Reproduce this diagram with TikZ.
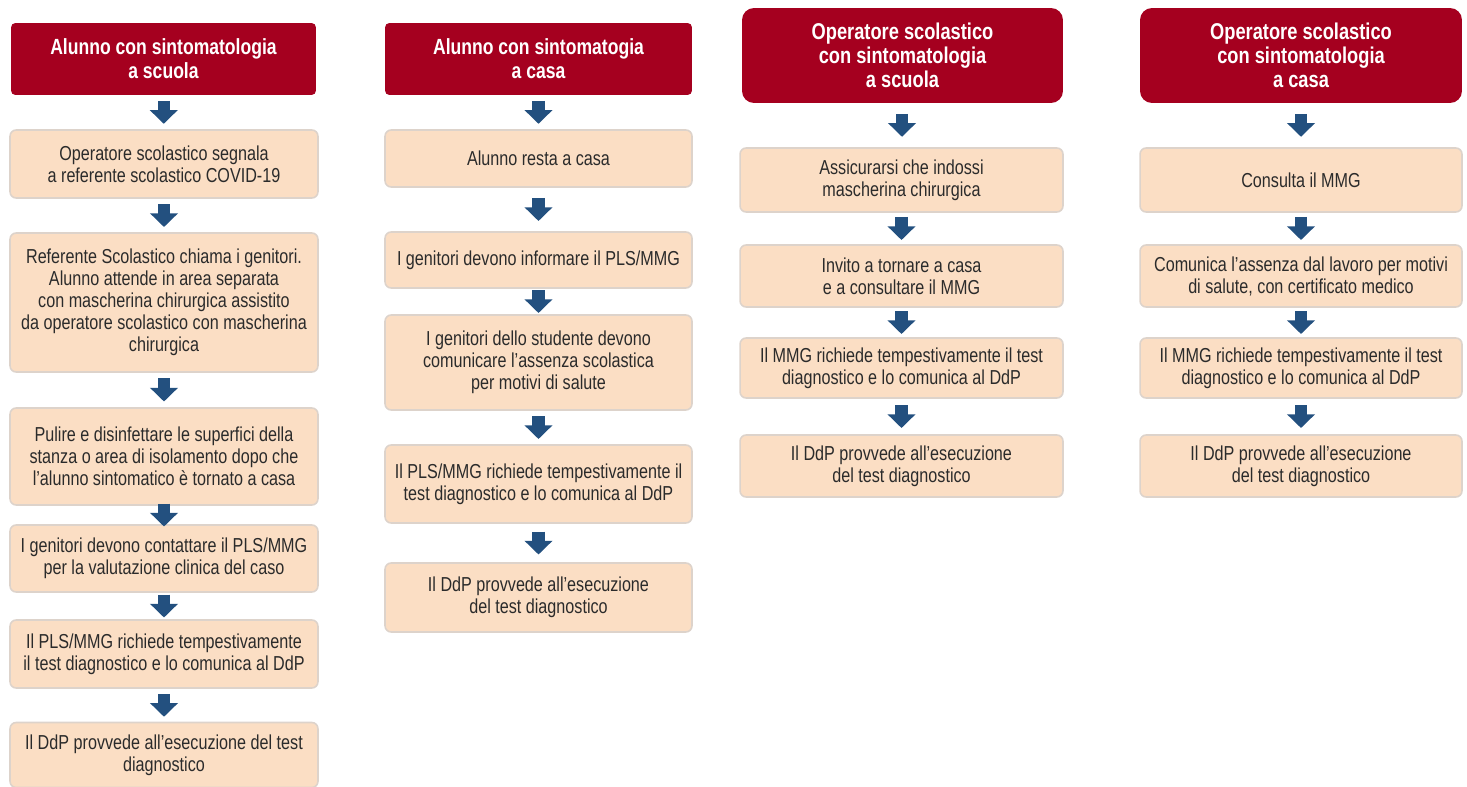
\documentclass[tikz,border=0pt]{standalone}
\usepackage{fontspec}
\setmainfont{Liberation Sans}[FakeStretch=0.8]
\usetikzlibrary{arrows.meta,calc}
\definecolor{hdred}{HTML}{A5001F}
\definecolor{boxfill}{HTML}{FBDEC4}
\definecolor{boxline}{HTML}{DDD3CB}
\definecolor{boxtext}{HTML}{2B2B2B}
\definecolor{arrblue}{HTML}{23507F}
\tikzset{
  head/.style={fill=hdred, text=white, rounded corners=2.5pt, align=center, inner sep=0pt, font=\bfseries\fontsize{12.5}{13.5}\selectfont},
  bighead/.style={head, rounded corners=6.8pt, font=\bfseries\fontsize{13}{13.5}\selectfont},
  stepbox/.style={fill=boxfill, draw=boxline, line width=0.9pt, text=boxtext, rounded corners=3.5pt, align=center, inner sep=0pt, font=\fontsize{11.5}{12.5}\selectfont},
  flowarrow/.style={draw=arrblue, line width=7pt, -{Triangle[width=15.5pt,length=7.8pt]}}
}
\newcommand\flow[2]{\draw[flowarrow] ($(#1.south)!.5!(#2.north)+(0,-11.5)$) -- ($(#1.south)!.5!(#2.north)+(0,11.5)$);}
\begin{document}
\begin{tikzpicture}[x=0.02cm,y=-0.02cm]
                \useasboundingbox (0,0) rectangle (1467,787);
                % alunno a scuola
                \node[head, minimum width=6.1cm, minimum height=1.44cm] (h1) at (163.5,59) {Alunno con sintomatologia\\a scuola};
                \node[stepbox, minimum width=6.16cm, minimum height=1.36cm] (a1) at (164,164) {Operatore scolastico segnala\\a referente scolastico COVID-19};
                \node[stepbox, minimum width=6.16cm, minimum height=2.78cm] (a2) at (164,302.5) {Referente Scolastico chiama i genitori.\\Alunno attende in area separata\\con mascherina chirurgica assistito\\da operatore scolastico con mascherina\\chirurgica};
                \node[stepbox, minimum width=6.16cm, minimum height=1.94cm] (a3) at (164,456.5) {Pulire e disinfettare le superfici della\\stanza o area di isolamento dopo che\\l'alunno sintomatico è tornato a casa};
                \node[stepbox, minimum width=6.16cm, minimum height=1.34cm] (a4) at (164,558.5) {I genitori devono contattare il PLS/MMG\\per la valutazione clinica del caso};
                \node[stepbox, minimum width=6.16cm, minimum height=1.36cm] (a5) at (164,654) {Il PLS/MMG richiede tempestivamente\\il test diagnostico e lo comunica al DdP};
                \node[stepbox, minimum width=6.16cm, minimum height=1.3cm] (a6) at (164,755) {Il DdP provvede all'esecuzione del test\\diagnostico};

                % alunno a casa
                \node[head, minimum width=6.14cm, minimum height=1.44cm] (h2) at (538.5,59) {Alunno con sintomatogia\\a casa};
                \node[stepbox, minimum width=6.14cm, minimum height=1.14cm] (b1) at (538.5,158.5) {Alunno resta a casa};
                \node[stepbox, minimum width=6.14cm, minimum height=1.12cm] (b2) at (538.5,260) {I genitori devono informare il PLS/MMG};
                \node[stepbox, minimum width=6.14cm, minimum height=1.9cm] (b3) at (538.5,362.5) {I genitori dello studente devono\\comunicare l'assenza scolastica\\per motivi di salute};
                \node[stepbox, minimum width=6.14cm, minimum height=1.56cm] (b4) at (538.5,484) {Il PLS/MMG richiede tempestivamente il\\test diagnostico e lo comunica al DdP};
                \node[stepbox, minimum width=6.14cm, minimum height=1.38cm] (b5) at (538.5,597.5) {Il DdP provvede all'esecuzione\\del test diagnostico};

                % operatore a scuola
                \node[bighead, minimum width=6.42cm, minimum height=1.9cm] (h3) at (902.5,55.5) {Operatore scolastico\\con sintomatologia\\a scuola};
                \node[stepbox, minimum width=6.46cm, minimum height=1.28cm] (c1) at (901.5,180) {Assicurarsi che indossi\\mascherina chirurgica};
                \node[stepbox, minimum width=6.46cm, minimum height=1.24cm] (c2) at (901.5,276) {Invito a tornare a casa\\e a consultare il MMG};
                \node[stepbox, minimum width=6.46cm, minimum height=1.2cm] (c3) at (901.5,368) {Il MMG richiede tempestivamente il test\\diagnostico e lo comunica al DdP};
                \node[stepbox, minimum width=6.46cm, minimum height=1.24cm] (c4) at (901.5,466) {Il DdP provvede all'esecuzione\\del test diagnostico};

                % operatore a casa
                \node[bighead, minimum width=6.44cm, minimum height=1.9cm] (h4) at (1301,55.5) {Operatore scolastico\\con sintomatologia\\a casa};
                \node[stepbox, minimum width=6.44cm, minimum height=1.28cm] (d1) at (1301,180) {Consulta il MMG};
                \node[stepbox, minimum width=6.44cm, minimum height=1.24cm] (d2) at (1301,276) {Comunica l'assenza dal lavoro per motivi\\di salute, con certificato medico};
                \node[stepbox, minimum width=6.44cm, minimum height=1.2cm] (d3) at (1301,368) {Il MMG richiede tempestivamente il test\\diagnostico e lo comunica al DdP};
                \node[stepbox, minimum width=6.44cm, minimum height=1.24cm] (d4) at (1301,466) {Il DdP provvede all'esecuzione\\del test diagnostico};

                \flow{h1}{a1} \flow{a1}{a2} \flow{a2}{a3} \flow{a3}{a4} \flow{a4}{a5} \flow{a5}{a6}
                \flow{h2}{b1} \flow{b1}{b2} \flow{b2}{b3} \flow{b3}{b4} \flow{b4}{b5}
                \flow{h3}{c1} \flow{c1}{c2} \flow{c2}{c3} \flow{c3}{c4}
                \flow{h4}{d1} \flow{d1}{d2} \flow{d2}{d3} \flow{d3}{d4}
            \end{tikzpicture}
\end{document}
